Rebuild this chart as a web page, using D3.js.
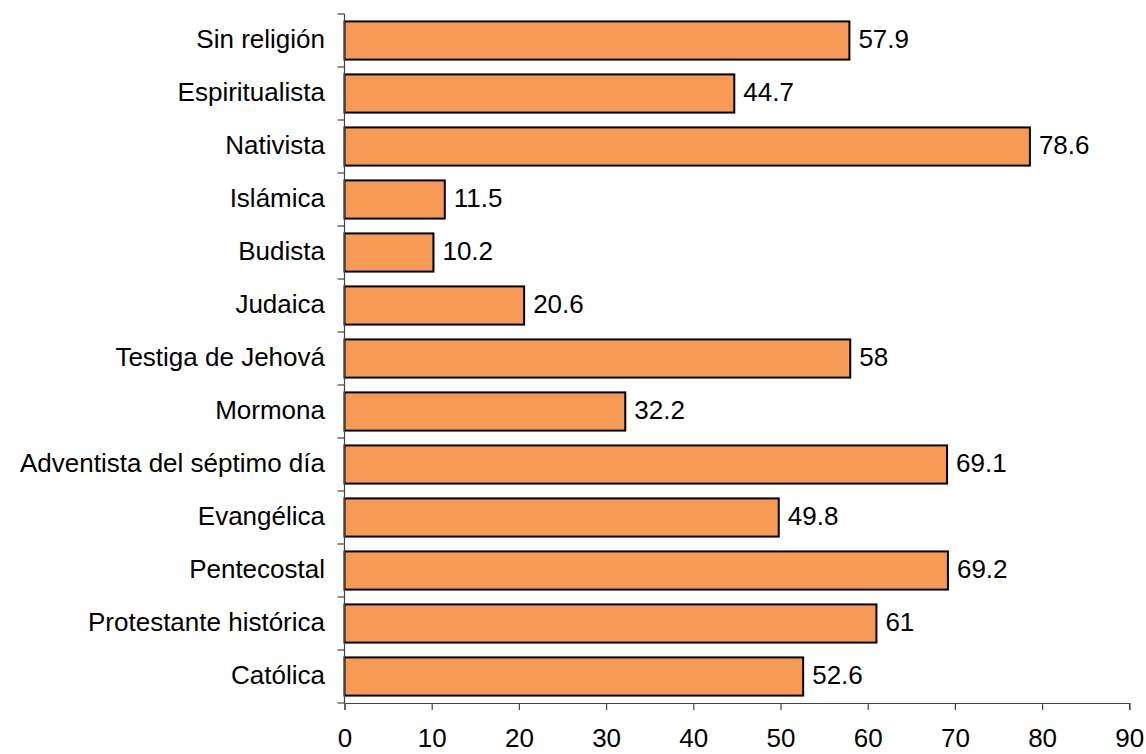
<!DOCTYPE html>
<html>
<head>
<meta charset="utf-8">
<script src="https://cdn.jsdelivr.net/npm/d3@7"></script>
<style>
html,body{margin:0;padding:0;background:#fff;}
text{font-family:"Liberation Sans",Arial,sans-serif;fill:#000;}
</style>
</head>
<body>
<svg id="chart" width="1146" height="754"></svg>
<script>
const categories = ["Sin religión","Espiritualista","Nativista","Islámica","Budista","Judaica","Testiga de Jehová","Mormona","Adventista del séptimo día","Evangélica","Pentecostal","Protestante histórica","Católica"];
const values = [57.9,44.7,78.6,11.5,10.2,20.6,58,32.2,69.1,49.8,69.2,61,52.6];
const xTicks = [0,10,20,30,40,50,60,70,80,90];

(function(){
const svg = d3.select("#chart");
const mLeft = 344.5, mRight = 1129.3, mTop = 14, mBottom = 703;
const fs = "26px";

const x = d3.scaleLinear().domain([0,90]).range([mLeft,mRight]);
const y = d3.scaleBand().domain(categories).range([mTop,mBottom]).paddingInner(0.28).paddingOuter(0.14);

svg.selectAll("rect.bar").data(values).enter().append("rect")
  .attr("class","bar")
  .attr("x", x(0))
  .attr("y", (d,i)=>y(categories[i]))
  .attr("width", d=>x(d)-x(0))
  .attr("height", y.bandwidth())
  .attr("fill","#F79A55")
  .attr("stroke","#000")
  .attr("stroke-width",2);

svg.selectAll("text.val").data(values).enter().append("text")
  .attr("class","val")
  .attr("x", d=>x(d)+9)
  .attr("y", (d,i)=>y(categories[i])+y.bandwidth()/2)
  .attr("dy","0.27em")
  .attr("font-size",fs)
  .text(d=>d);

const yAxisG = svg.append("g");
yAxisG.append("line").attr("x1",mLeft).attr("x2",mLeft).attr("y1",mTop).attr("y2",mBottom).attr("stroke","#444").attr("stroke-width",1.2);
const step = (mBottom-mTop)/categories.length;
d3.range(categories.length+1).forEach(i=>{
  yAxisG.append("line").attr("x1",mLeft-7).attr("x2",mLeft).attr("y1",mTop+i*step).attr("y2",mTop+i*step).attr("stroke","#444").attr("stroke-width",1.2);
});
yAxisG.selectAll("text").data(categories).enter().append("text")
  .attr("x", 325)
  .attr("y", d=>y(d)+y.bandwidth()/2)
  .attr("dy","0.27em")
  .attr("text-anchor","end")
  .attr("font-size",fs)
  .text(d=>d);

const xAxis = d3.axisBottom(x).tickValues(xTicks).tickSize(7).tickPadding(19).tickFormat(d3.format("d"));
const xg = svg.append("g").attr("transform",`translate(0,${mBottom})`).call(xAxis);
xg.select(".domain").attr("stroke","#444").attr("stroke-width",1.2);
xg.selectAll(".tick line").attr("stroke","#444").attr("stroke-width",1.2);
xg.selectAll(".tick text").attr("font-size",fs).attr("font-family","'Liberation Sans',Arial,sans-serif").attr("fill","#000");
})();
</script>
</body>
</html>
